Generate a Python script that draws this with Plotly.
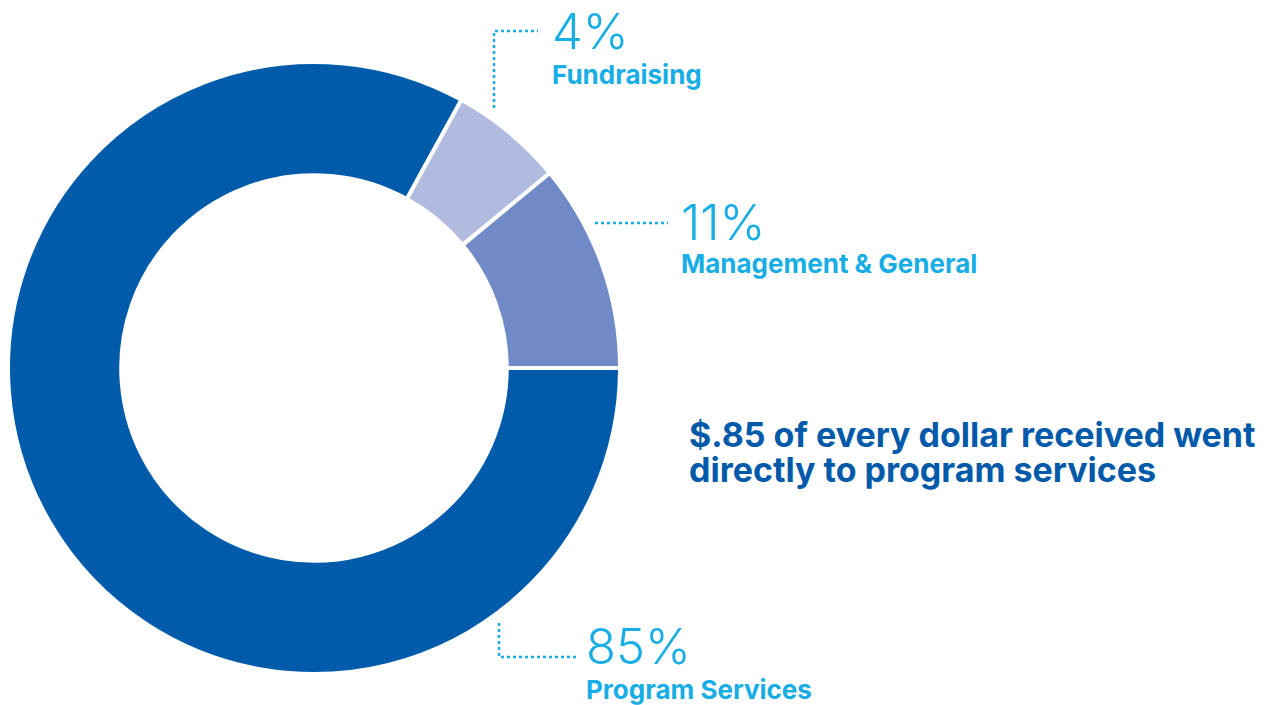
import plotly.graph_objects as go

# Data
categories = ["Program Services", "Fundraising", "Management & General"]
slice_values = [83, 6, 11]          # angular sizes as drawn
pct_labels = ["85%", "4%", "11%"]   # printed percentages
slice_colors = ["#005CAA", "#B0BBDF", "#6F8AC6"]
headline = ["$.85 of every dollar received went", "directly to program services"]

W, H = 1264, 705
OFF = 8  # page offset of the plot div
CYAN = "#18ADE5"
NAVY = "#005AA9"
FONT = "Inter"

def spx(x):
    return (x - OFF) / W

def spy(y):
    return 1 - (y - OFF) / H

cx, cy, r = 314, 368, 307
half_w = cx - OFF  # keep the domain inside the paper

fig = go.Figure(go.Pie(
    labels=categories,
    values=slice_values,
    sort=False,
    direction="clockwise",
    rotation=90,
    hole=0.63,
    marker=dict(colors=slice_colors, line=dict(color="white", width=4)),
    textinfo="none",
    hoverinfo="label",
    showlegend=False,
    domain=dict(x=[0, spx(cx + half_w)], y=[spy(cy + half_w), spy(cy - half_w)]),
))

annotations = []
# left x, pct baseline, label baseline (screen px)
label_pos = {
    "Fundraising": (553, 50, 83),
    "Management & General": (682, 241, 272),
    "Program Services": (587, 665, 698),
}
for cat, pct in zip(categories, pct_labels):
    lx, pb, lb = label_pos[cat]
    annotations.append(dict(
        x=spx(lx - 3), y=spy(pb + 13), xref="paper", yref="paper",
        xanchor="left", yanchor="bottom", showarrow=False,
        text=pct, font=dict(family=FONT, size=49, color=CYAN, weight=350),
    ))
    annotations.append(dict(
        x=spx(lx - 3), y=spy(lb + 9), xref="paper", yref="paper",
        xanchor="left", yanchor="bottom", showarrow=False,
        text=cat, font=dict(family=FONT, size=26, color=CYAN, weight=700),
    ))

for line, base in zip(headline, [447, 482]):
    annotations.append(dict(
        x=spx(687), y=spy(base + 10), xref="paper", yref="paper",
        xanchor="left", yanchor="bottom", showarrow=False,
        text=line, font=dict(family=FONT, size=34, color=NAVY, weight=700),
    ))

dot = dict(color=CYAN, width=2.5, dash="dot")
shapes = [
    dict(type="path", xref="paper", yref="paper",
         path=f"M {spx(494)},{spy(108)} L {spx(494)},{spy(31)} L {spx(538)},{spy(31)}", line=dot),
    dict(type="line", xref="paper", yref="paper",
         x0=spx(595), y0=spy(223), x1=spx(668), y1=spy(223), line=dot),
    dict(type="path", xref="paper", yref="paper",
         path=f"M {spx(499)},{spy(623)} L {spx(499)},{spy(657)} L {spx(577)},{spy(657)}", line=dot),
]

fig.update_layout(
    width=W, height=H,
    margin=dict(l=0, r=0, t=0, b=0),
    paper_bgcolor="white", plot_bgcolor="white",
    annotations=annotations, shapes=shapes,
)

fig.write_html("out.html")
